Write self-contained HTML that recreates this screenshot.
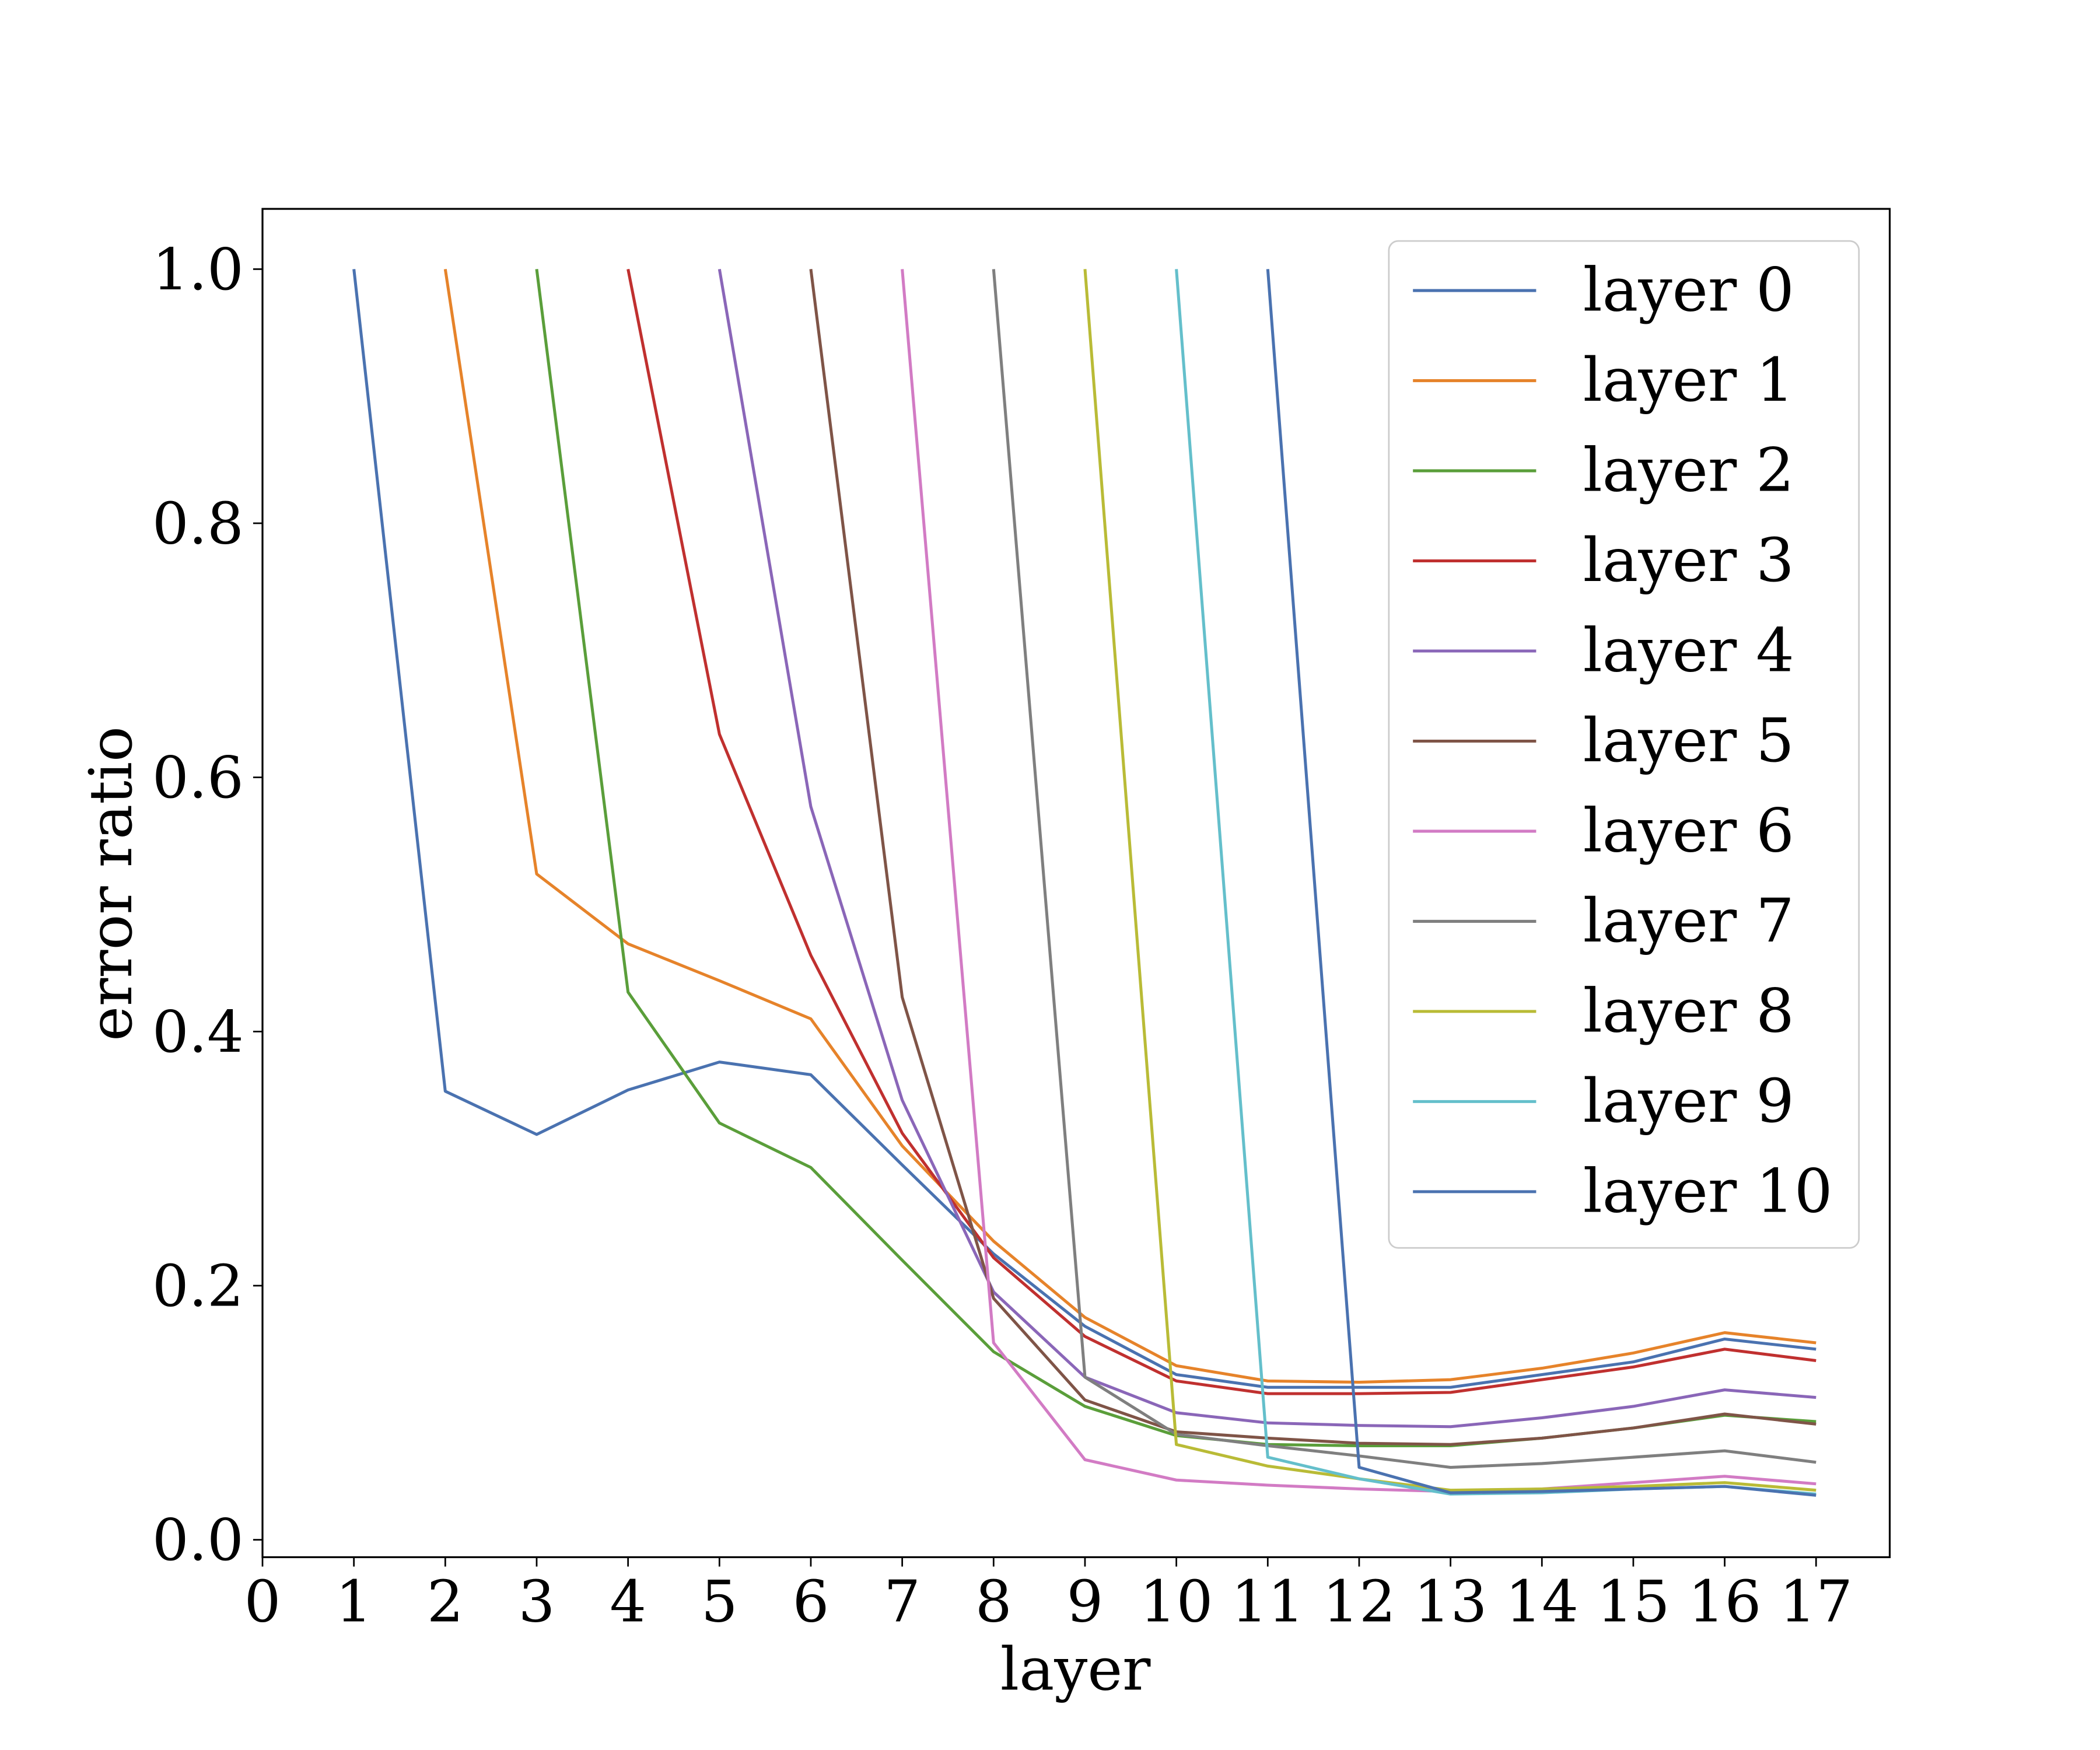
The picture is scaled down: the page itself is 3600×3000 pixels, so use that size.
<!DOCTYPE html>
<html><head><meta charset="utf-8"><style>html,body{margin:0;padding:0;background:#fff}svg{display:block}text{font-family:"DejaVu Serif","Liberation Serif",serif;fill:#000}</style></head>
<body>
<svg id="chart" width="3600" height="3000" viewBox="0 0 1568 1307" preserveAspectRatio="none" xmlns="http://www.w3.org/2000/svg">
<rect width="1568" height="1307" fill="#fff"/>
<g id="lines"></g>
<rect x="196" y="156" width="1215" height="1007" fill="none" stroke="#000" stroke-width="1.4"/>
<g id="xticks"></g>
<g id="yticks"></g>
<text x="803" y="1262" font-size="44" text-anchor="middle">layer</text>
<text transform="translate(98,660) rotate(-90)" font-size="44" text-anchor="middle">error ratio</text>
<g id="legend"></g>
</svg>
<script>
const xTicks=[0,1,2,3,4,5,6,7,8,9,10,11,12,13,14,15,16,17];
const yTicks=[0,0.2,0.4,0.6,0.8,1.0];
const yTickLabels=["0.0","0.2","0.4","0.6","0.8","1.0"];
const seriesNames=["layer 0","layer 1","layer 2","layer 3","layer 4","layer 5","layer 6","layer 7","layer 8","layer 9","layer 10"];
const seriesColors=["#4a72b0","#e6832a","#5a9e3a","#c0302f","#8a66b8","#7f5447","#d27bc4","#7f7f7f","#b9bb36","#64bfcb","#4a72b0"];
const startLayers=[1,2,3,4,5,6,7,8,9,10,11];
const s0=[1.0,.353,.319,.354,.376,.366,.295,.225,.168,.130,.120,.120,.120,.130,.140,.158,.150];
const s1=[1.0,.524,.469,.440,.410,.310,.235,.175,.137,.125,.124,.126,.135,.147,.163,.155];
const s2=[1.0,.431,.328,.293,.220,.148,.105,.082,.075,.074,.074,.080,.088,.098,.093];
const s3=[1.0,.634,.460,.320,.222,.160,.125,.115,.115,.116,.126,.136,.150,.141];
const s4=[1.0,.577,.346,.195,.128,.100,.092,.090,.089,.096,.105,.118,.112];
const s5=[1.0,.427,.190,.110,.085,.080,.076,.075,.080,.088,.099,.091];
const s6=[1.0,.155,.063,.047,.043,.040,.038,.040,.045,.050,.044];
const s7=[1.0,.128,.083,.074,.066,.057,.060,.065,.070,.061];
const s8=[1.0,.075,.058,.048,.039,.040,.042,.045,.039];
const s9=[1.0,.065,.048,.036,.037,.040,.042,.036];
const s10=[1.0,.057,.037,.038,.040,.042,.035];
const allSeries=[s0,s1,s2,s3,s4,s5,s6,s7,s8,s9,s10];
const NS="http://www.w3.org/2000/svg";
const X=v=>196+v*(1356-196)/17;
const Y=v=>1150-v*949;
function mk(t,a,p){const e=document.createElementNS(NS,t);for(const k in a)e.setAttribute(k,a[k]);p.appendChild(e);return e;}
const lines=document.getElementById('lines');
allSeries.forEach((s,i)=>{
  const pts=s.map((v,j)=>X(startLayers[i]+j).toFixed(2)+','+Y(v).toFixed(2)).join(' ');
  const pl=mk('polyline',{points:pts,fill:'none',stroke:seriesColors[i],'stroke-width':2.2,'stroke-linejoin':'round'},lines);
  
  
});
const xg=document.getElementById('xticks');
xTicks.forEach(t=>{
  mk('line',{x1:X(t),x2:X(t),y1:1163,y2:1170,stroke:'#000','stroke-width':1.2},xg);
  const tx=mk('text',{x:X(t),y:1211,'font-size':43,'text-anchor':'middle'},xg);
  tx.textContent=t;
  
  
});
const yg=document.getElementById('yticks');
yTicks.forEach((t,i)=>{
  mk('line',{x1:189,x2:196,y1:Y(t),y2:Y(t),stroke:'#000','stroke-width':1.2},yg);
  const tx=mk('text',{x:182,y:Y(t)+15,'font-size':43,'text-anchor':'end'},yg);
  tx.textContent=yTickLabels[i];
  
  
});
const lg=document.getElementById('legend');
mk('rect',{x:1037,y:180,width:351,height:752,rx:7,fill:'#fff','fill-opacity':0.8,stroke:'#ccc','stroke-width':1.2},lg);
seriesNames.forEach((n,i)=>{
  const y=217+i*67.3;
  const ln=mk('line',{x1:1055,x2:1147,y1:y,y2:y,stroke:seriesColors[i],'stroke-width':2.2},lg);
  
  
  const tx=mk('text',{x:1182,y:y+15,'font-size':45},lg);
  tx.textContent=n;
  
  
});
</script>
</body></html>
